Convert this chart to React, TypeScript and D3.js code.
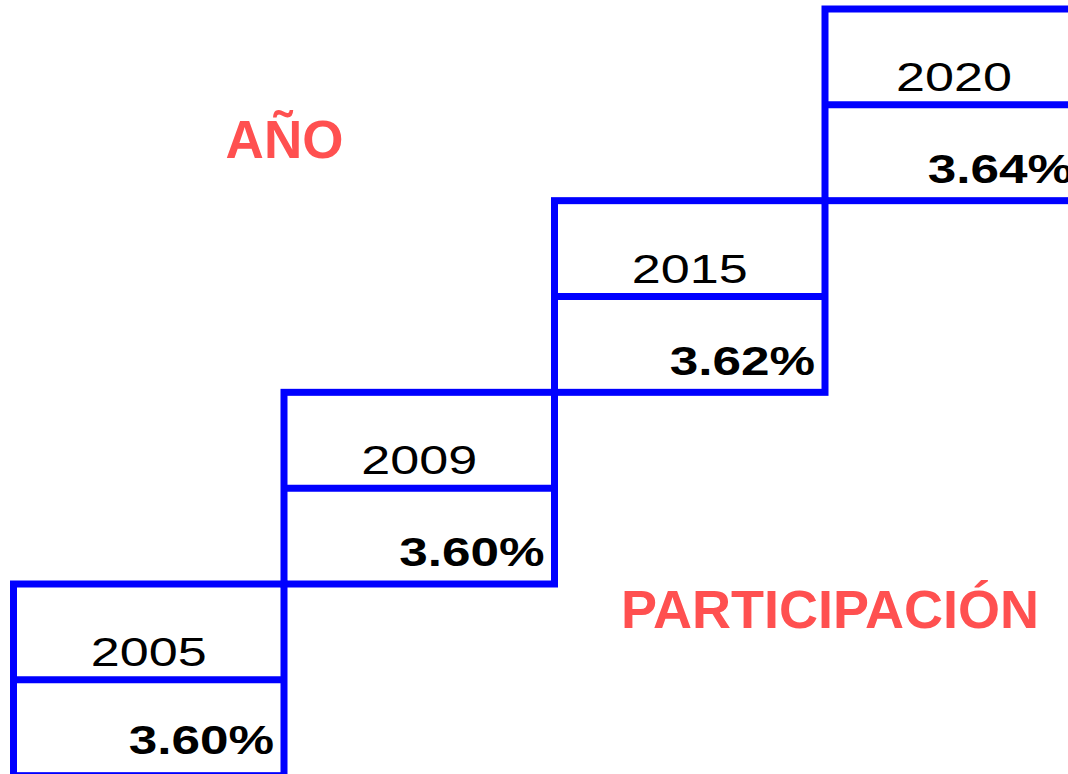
//this component renders the staircase of participation by year
import * as d3 from 'd3';
import React, { useEffect } from 'react';

const years = ['2005', '2009', '2015', '2020'];
const shares = [3.6, 3.6, 3.62, 3.64];
const yearTitle = 'AÑO';
const shareTitle = 'PARTICIPACIÓN';

const App = () => {
  //removing the default body margin so the svg sits at the page corner
  useEffect(() => {
    document.body.style.margin = '0';
  }, []);

  //setting the canvas size
  const width = 1068;
  const height = 774;

  //each step sits one band to the right
  const x = d3
    .scaleBand<string>()
    .domain(years)
    .range([13.5, 13.5 + years.length * 270.5])
    .paddingInner(0);

  //each step climbs one box height up
  const top = d3
    .scaleLinear()
    .domain([0, years.length - 1])
    .range([584, 9]);

  const boxHeight = top(0) - top(1);
  const rightLimit = width + 15;
  const fmt = (v: number) => d3.format('.2f')(v) + '%';

  const font = '"Liberation Sans", Arial, sans-serif';
  const stroke = '#0000FF';

  return (
    <svg
      width={width}
      height={height}
      viewBox={`0 0 ${width} ${height}`}
      style={{ display: 'block', background: '#fff' }}
    >
      {years.map((yr, i) => {
        const x0 = x(yr) as number;
        const x1 = Math.min(x0 + x.bandwidth(), rightLimit);
        const y0 = top(i);
        const mid = y0 + boxHeight / 2;
        //the bottom box is clipped by the page so its value sits a bit higher
        const valueY = i === 0 ? y0 + 170 : y0 + 174;
        return (
          <g key={yr}>
            <rect
              x={x0}
              y={y0}
              width={x1 - x0}
              height={boxHeight}
              fill="none"
              stroke={stroke}
              strokeWidth={7}
            />
            <line x1={x0} x2={x1} y1={mid} y2={mid} stroke={stroke} strokeWidth={7} />
            <text
              transform={`translate(${(x0 + x1) / 2}, ${y0 + 82}) scale(1.27, 1)`}
              textAnchor="middle"
              fontFamily={font}
              fontSize={41}
              fill="#000"
            >
              {yr}
            </text>
            <text
              transform={`translate(${x1 - 10}, ${valueY}) scale(1.25, 1)`}
              textAnchor="end"
              fontFamily={font}
              fontWeight="bold"
              fontSize={41}
              fill="#000"
            >
              {fmt(shares[i])}
            </text>
          </g>
        );
      })}
      <text
        x={284.5}
        y={158}
        textAnchor="middle"
        fontFamily={font}
        fontWeight="bold"
        fontSize={53}
        fill="#FF5050"
      >
        {yearTitle}
      </text>
      <text
        x={830}
        y={628}
        textAnchor="middle"
        fontFamily={font}
        fontWeight="bold"
        fontSize={54}
        fill="#FF5050"
      >
        {shareTitle}
      </text>
    </svg>
  );
};

export default App;
